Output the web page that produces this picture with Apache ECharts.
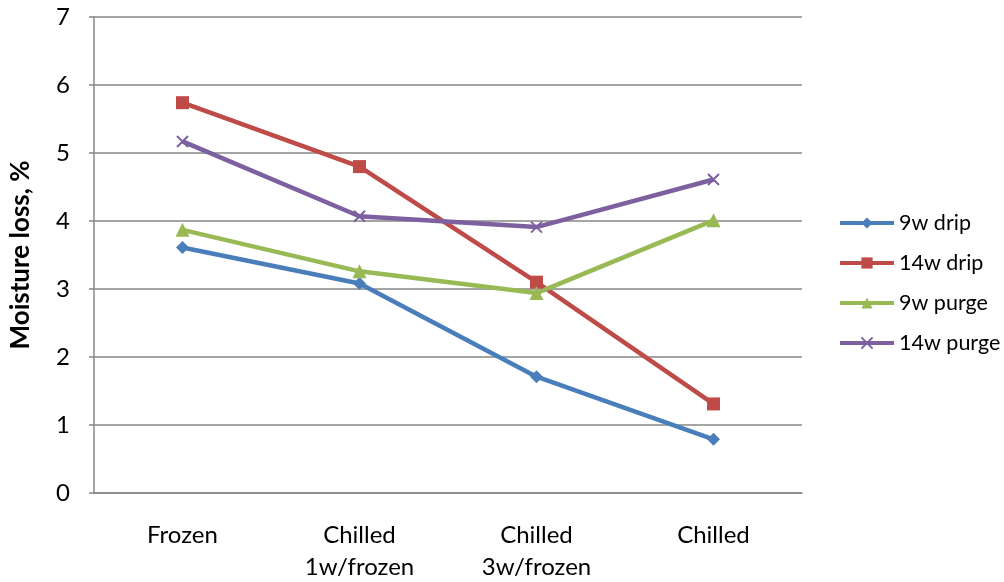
<!DOCTYPE html>
<html>
<head>
<meta charset="utf-8">
<script src="https://cdn.jsdelivr.net/npm/echarts@6/dist/echarts.min.js"></script>
<style>
  html, body { margin: 0; padding: 0; background: #ffffff; }
  #chart { width: 1004px; height: 582px; }
</style>
</head>
<body>
<div id="chart"></div>
<script>
// Storage treatments along the x axis
const categories = ['Frozen', 'Chilled\n1w/frozen', 'Chilled\n3w/frozen', 'Chilled'];

// Moisture loss (%) per treatment
const drip9w   = [3.61, 3.08, 1.71, 0.79];
const drip14w  = [5.74, 4.80, 3.10, 1.31];
const purge9w  = [3.87, 3.26, 2.94, 4.01];
const purge14w = [5.17, 4.07, 3.91, 4.61];

const yTicks = { min: 0, max: 7, interval: 1 };

const FONT = 'Lato, "Open Sans", sans-serif';
const GRID_COLOR = '#878787';
const crossPath = 'path://M0,0L10,10M10,0L0,10';

function lineSeries(name, data, color, symbol, size) {
  const isCross = symbol === crossPath;
  return {
    name: name,
    type: 'line',
    data: data,
    symbol: symbol,
    symbolSize: size,
    showSymbol: true,
    lineStyle: { color: color, width: 4.5 },
    itemStyle: { color: color, borderColor: color, borderWidth: isCross ? 2 : 0 },
    emphasis: { disabled: true },
    animation: false
  };
}

const chart = echarts.init(document.getElementById('chart'), null, { renderer: 'canvas' });

chart.setOption({
  backgroundColor: '#ffffff',
  animation: false,
  grid: { left: 94, right: 202, top: 17, bottom: 89, containLabel: false, outerBoundsMode: 'none' },
  legend: {
    orient: 'vertical',
    left: 838,
    top: 212,
    padding: 0,
    itemWidth: 54,
    itemHeight: 14,
    itemGap: 18,
    lineStyle: { width: 4 },
    textStyle: { fontFamily: FONT, fontSize: 21.5, lineHeight: 22, color: '#000000' },
    data: ['9w drip', '14w drip', '9w purge', '14w purge']
  },
  xAxis: {
    type: 'category',
    data: categories,
    boundaryGap: true,
    axisLine: { show: true, lineStyle: { color: GRID_COLOR, width: 1.5 } },
    axisTick: { show: false },
    axisLabel: {
      interval: 0,
      margin: 26,
      fontFamily: FONT,
      fontSize: 24,
      color: '#000000',
      lineHeight: 32,
      verticalAlign: 'top'
    },
    splitLine: { show: false }
  },
  yAxis: {
    type: 'value',
    min: yTicks.min,
    max: yTicks.max,
    interval: yTicks.interval,
    name: 'Moisture loss, %',
    nameLocation: 'middle',
    nameRotate: 90,
    nameGap: 60,
    nameTextStyle: { fontFamily: FONT, fontSize: 26, fontWeight: 'bold', color: '#000000' },
    axisLine: { show: true, lineStyle: { color: GRID_COLOR, width: 1.5 } },
    axisTick: { show: true, inside: false, length: 5, lineStyle: { color: GRID_COLOR, width: 1.5 } },
    axisLabel: { margin: 24, fontFamily: FONT, fontSize: 24, color: '#000000' },
    splitLine: { show: true, lineStyle: { color: GRID_COLOR, width: 1.5 } }
  },
  series: [
    lineSeries('9w drip', drip9w, '#4A7EBB', 'diamond', 13),
    lineSeries('14w drip', drip14w, '#BE4B48', 'rect', 13),
    lineSeries('9w purge', purge9w, '#98B954', 'triangle', 14),
    lineSeries('14w purge', purge14w, '#7D60A0', crossPath, 11)
  ]
});
</script>
</body>
</html>
